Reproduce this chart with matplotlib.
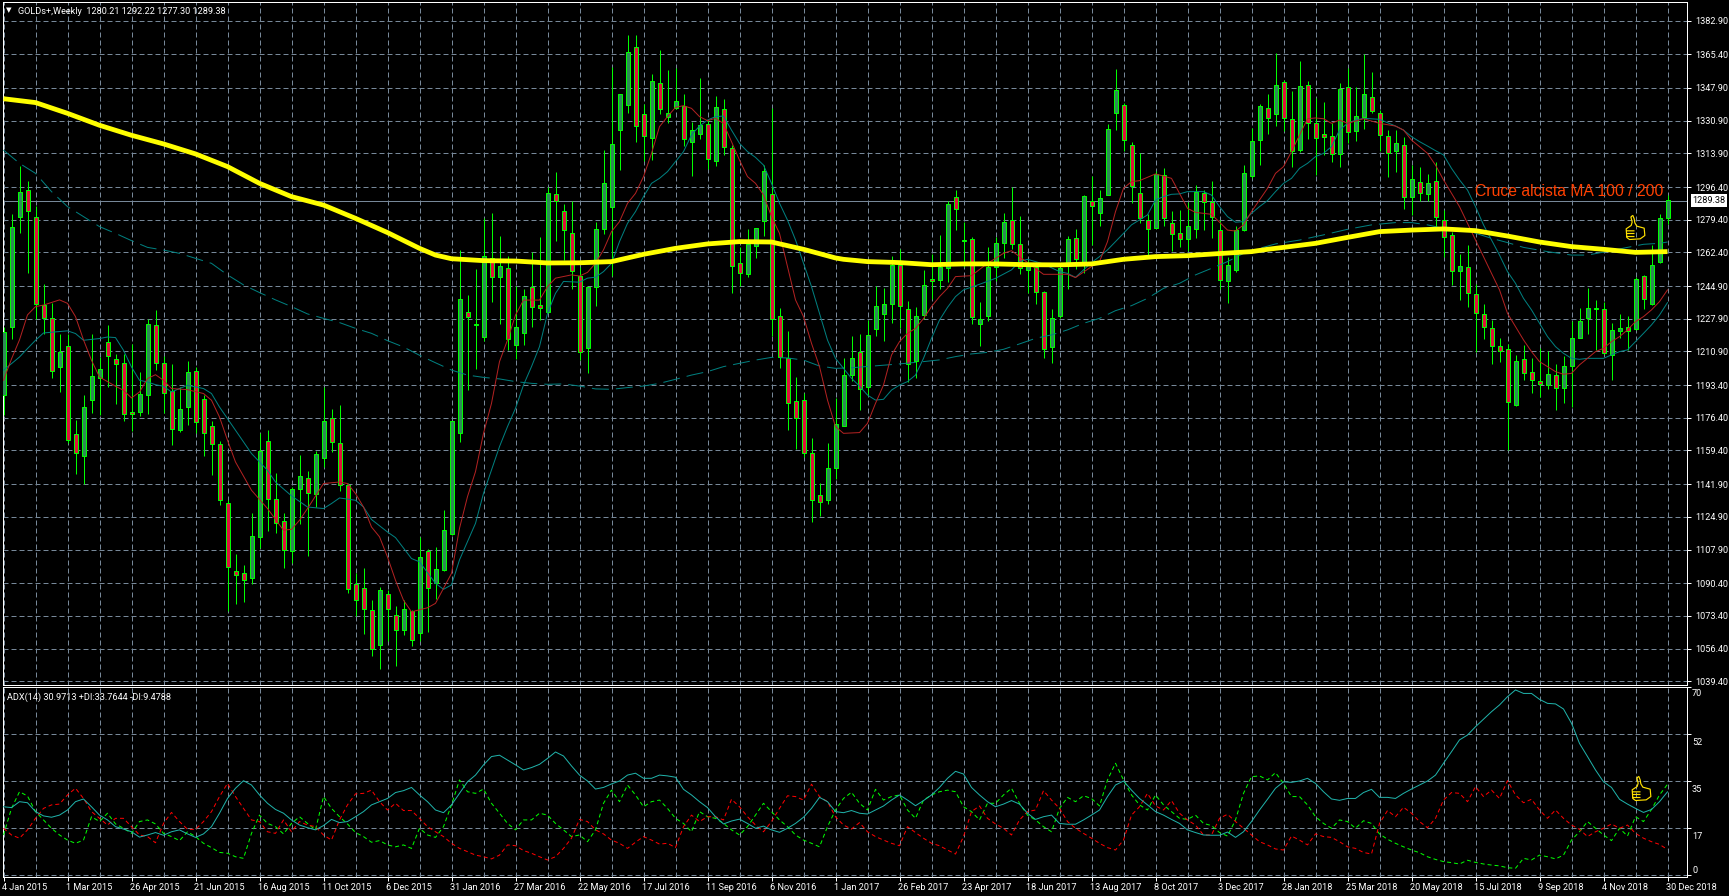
import matplotlib
matplotlib.use("Agg")
import matplotlib.pyplot as plt
from matplotlib.path import Path
from matplotlib.transforms import ScaledTranslation

W, H = 1729, 896

opens = [1188.1,1223.8,1281,1294.7,1280.6,1235,1228.1,1202.8,1213.9,1168.2,
1156.6,1185.9,1197.1,1216,1207.2,1205.1,1179.6,1179.6,1188.5,1224.5,
1205.1,1190.4,1170.3,1182.2,1200.8,1186.4,1172.3,1163,1132.3,1096.9,
1095.9,1093.1,1114.5,1164.5,1133.9,1122.9,1107.3,1139.6,1145.3,1137,
1155.7,1176.5,1163.5,1141.7,1090.2,1088.1,1076.2,1058.5,1085,1073.6,
1066.3,1076,1064.7,1107.3,1090.3,1097.4,1115.8,1168.3,1231.6,1224.5,
1218.6,1259.7,1249.4,1254.1,1214.1,1220.3,1244.6,1234.9,1231.6,1292.6,
1284.1,1272.7,1250.1,1212.9,1244.2,1274.7,1286.2,1326.2,1339.2,1369,
1334.2,1321.7,1350.3,1333,1337.3,1338.7,1320,1324.1,1329,1310.1,
1336.8,1316.9,1257.1,1251.3,1265.9,1278.6,1292.6,1229.1,1207.3,1185.3,
1185.5,1158.3,1136,1133.8,1150.5,1172.3,1198.7,1210.8,1192.6,1222.4,
1230.6,1235.8,1255.8,1233.2,1206.1,1230,1248.4,1248.2,1254.5,1291.4,
1268.4,1269.2,1225,1229.5,1255,1267.5,1279.4,1266.6,1253.4,1255,
1242,1213.4,1229.5,1256.7,1270.1,1256.7,1289,1282.7,1292.4,1335.1,
1338.9,1318.4,1293.1,1279.1,1275.3,1302.8,1277.5,1272.3,1269.2,1274.7,
1293.1,1288.4,1273.9,1247.7,1253.4,1274.2,1302.3,1320.7,1337.3,1334.5,
1350.8,1331.6,1315.5,1349.6,1329.5,1323.8,1322.8,1313.4,1348.2,1325.7,
1332.8,1343,1334.7,1322.7,1315,1318.1,1291.4,1298.8,1293,1299.4,
1279.3,1271.3,1252.9,1255,1240.9,1230.6,1223.3,1213.6,1212.4,1183.2,
1207.2,1200,1195.4,1193.6,1198.5,1191.7,1203.2,1217.7,1228.1,1232.8,
1232.8,1209.1,1221.7,1223.4,1222.4,1250.1,1235.8,1257.2,1280.21]

closes = [1221,1275.8,1293.6,1284.1,1235.4,1228.5,1200.8,1210.8,1165,1158.3,
1182.2,1198.3,1202,1208.7,1204.6,1178.6,1178.6,1188.5,1225,1205.1,
1189.5,1170.8,1181.2,1200.4,1174.4,1168.7,1163,1133.9,1099,1094.9,
1092.3,1115.1,1159.3,1134.4,1121.9,1107.9,1139.6,1146.3,1137.5,1157.8,
1174.9,1164,1141.7,1087.6,1081.9,1077.2,1056.4,1086.6,1077.2,1066.3,
1076.7,1060.6,1104.2,1088.1,1097.6,1117.9,1174.6,1238,1229,1225.2,
1260.7,1249.4,1255.2,1217.2,1223.4,1239.6,1233.8,1233.3,1293.1,1288.9,
1273.9,1252.7,1210.5,1244.2,1274.4,1298.3,1318.6,1344.6,1366.4,1328.3,
1323.1,1351.3,1336.8,1334.7,1340.9,1321.2,1325.9,1328.8,1310.8,1337.8,
1317.4,1255.2,1251.5,1266.8,1275,1304.6,1227.6,1207.8,1183.9,1176.1,
1158.3,1133.5,1132.4,1150.1,1173,1198.5,1207.3,1191.2,1219.3,1234.4,
1235.4,1255.8,1234.4,1204.2,1229.2,1245.3,1247.4,1254.8,1287.6,1284.8,
1268.9,1229,1227.6,1255,1267.1,1278,1267,1254.1,1255.7,1241.6,
1212,1228.1,1254.1,1269.2,1258.8,1291.6,1286.4,1290.9,1326.4,1346.7,
1320.7,1296.9,1280.1,1274.4,1303.3,1280.1,1272.1,1269.5,1276,1293.8,
1288.4,1280.8,1247.9,1255.7,1273.9,1303.5,1320.2,1338.4,1332.1,1349.3,
1332.1,1315,1348.8,1329.5,1321.7,1322.6,1313.4,1347.2,1324.8,1333.2,
1344.6,1335.8,1323.6,1313.9,1319.1,1291.4,1300.4,1293.1,1298.3,1280.6,
1270.2,1252.6,1255.2,1241.5,1230.7,1223.4,1213.6,1211.2,1184.5,1205.8,
1199.5,1196.2,1193.8,1199,1191.7,1203.2,1217.7,1226.6,1233.3,1233.5,
1210.1,1221.9,1222.9,1221.7,1248.4,1238.4,1255.7,1280.1,1289.38]

highs = [1223.8,1282.4,1307.3,1299.5,1286.5,1245.8,1235.9,1219.8,1220,1175.5,
1188.1,1219.8,1208,1224.7,1209.4,1209.4,1215,1200,1227.6,1232.5,
1208.7,1204.2,1192.4,1205.8,1202.8,1188.1,1174.8,1164.2,1133.5,1105.4,
1099.7,1126.8,1168.5,1170.3,1147.9,1126.8,1140.4,1156.9,1148.6,1159.2,
1192.4,1180.8,1182.9,1142.5,1095.9,1098.2,1081.5,1088.5,1086.7,1078.4,
1081.9,1076.7,1114.5,1108.4,1109.4,1128.5,1174.6,1263.7,1240.2,1253.6,
1280.1,1283.1,1270.9,1260.5,1245.1,1243.2,1262.4,1270.2,1296.6,1304,
1287.6,1289.1,1255,1244.6,1278,1315.6,1358.6,1344.8,1375.4,1375.4,
1339.6,1355,1367.6,1357.2,1358.1,1344.8,1330.4,1352.9,1331.2,1343.7,
1342.2,1318.2,1265.4,1274.4,1275,1307.8,1337.3,1233.3,1221.5,1197.4,
1189.5,1165.7,1142.3,1163.1,1186.5,1207.3,1218.9,1220,1227.3,1245,
1243.7,1260.5,1264.4,1237.1,1234.2,1253.3,1261.6,1271.4,1289.1,1294.8,
1278.4,1270.2,1236.5,1265,1270.6,1282.7,1296.4,1281.3,1258.5,1257.6,
1242.5,1232.8,1255,1270.9,1274.4,1292.2,1302.1,1294.8,1329.2,1357.8,
1339.9,1319.6,1314,1282.4,1304.9,1306.1,1283.9,1284.4,1288.8,1297.4,
1294.8,1299.4,1279.3,1260.2,1276.1,1307.7,1326.9,1339.6,1344.6,1365.9,
1352,1346.5,1361.9,1351.5,1342.5,1340.6,1329.5,1350.3,1358.1,1348.2,
1365.4,1356.2,1336.4,1326,1326,1322.2,1307.8,1307,1303.2,1309.2,
1284.4,1273.2,1261.6,1266.3,1245.8,1235.4,1227.3,1217.7,1214.8,1209,
1214.3,1207.3,1212.5,1211.1,1204.4,1208.6,1226.9,1233.3,1243.7,1237.7,
1236.8,1225.5,1230.4,1229.3,1249.8,1250.7,1266.3,1282.4,1292.22]

lows = [1177.7,1217.6,1272.3,1251.9,1228,1220,1197.1,1189.8,1163.3,1147,
1142.2,1178.9,1177.7,1192.4,1183.4,1174.8,1169.6,1177.2,1178.2,1201.1,
1178.9,1162.1,1169,1172.5,1168.5,1156.4,1146.5,1130.9,1076,1079.4,
1080.6,1089.8,1108.9,1117.4,1116.5,1098.2,1101,1121,1104.4,1130,
1150.8,1158.6,1138.2,1085.3,1073.2,1063.8,1052.4,1046,1060.4,1047.4,
1063.3,1057.8,1060.4,1065,1082,1096.9,1115.5,1164,1190.8,1201.6,
1216.5,1236.6,1225.2,1211.7,1206.8,1214.3,1223.8,1227.3,1230.7,1268.5,
1258.5,1243.5,1206.4,1199.9,1234.5,1272,1250.1,1305.2,1334.7,1319.8,
1310.1,1310.4,1334.4,1329.5,1336.8,1317.7,1302.1,1321.4,1305.8,1307.3,
1313,1241.5,1245.1,1249.8,1259.5,1271,1219,1202.5,1170,1160,
1156.2,1122.4,1125.3,1131.6,1144.6,1172,1195.5,1180.4,1187.7,1218.9,
1216.5,1225.9,1223,1194.8,1197.1,1227.6,1238.4,1243.4,1247.2,1274.1,
1255,1225.2,1213.9,1226.9,1247.7,1259.3,1264.2,1251.2,1241.1,1235.6,
1207.3,1204.7,1228.1,1243.6,1254,1251.5,1266.3,1276.3,1292,1326.1,
1315.1,1288.1,1277.9,1260.2,1275,1276.1,1263.1,1265,1263.1,1269.9,
1274.1,1269.9,1243.4,1236.3,1252.4,1273.7,1300.9,1307.9,1324,1328.1,
1325.7,1307,1314.8,1321.2,1302.6,1313,1309.6,1307,1319.5,1320.2,
1326.6,1335,1315.1,1301.8,1304.4,1285,1282,1289.3,1289.3,1275,
1260.2,1245.3,1237.7,1234.2,1210.8,1217.4,1204.4,1205.6,1159.6,1182.7,
1196,1189.5,1187.1,1191.2,1180.5,1184.3,1182.2,1217.7,1220,1211.7,
1209.6,1196.1,1217.7,1211.7,1222,1232.8,1235.2,1256.7,1277.3]

ma_slow_bars = [0,4,8,12,16,20,24,28,32,36,40,44,48,52,54,56,60,64,68,72,76,80,84,88,92,96,100,104,
105,108,112,116,120,124,128,132,136,140,144,148,152,156,158,160,164,168,172,176,180,184,188,192,196,200,204,208]
ma_slow = [1342.3,1340.3,1334.7,1328.5,1323.3,1318.8,1313.6,1307,1298.3,1291.4,1287,1280.1,1272.7,1264.5,1261,1259.1,
1258.1,1257.9,1256.9,1257,1257.6,1261.4,1264.5,1266.8,1268,1267.8,1264,1259.5,
1258.8,1257.6,1257.1,1256,1256.4,1256.4,1256,1255.9,1256.4,1258.8,1260.2,1260.7,1261.8,1262.8,1264,
1265,1267.1,1270.2,1273.2,1274,1274.6,1273.7,1270.9,1267.8,1265.4,1264,1262.4,1262.8]

ma_fast_bars = [0,1,2,3,4,5,7,8,9,10,11,12,14,15,16,17,18,19,20,21,23,25,26,27,28,29,31,33,35,36,37,38,40,42,43,44,45,46,47,48,49,50,51,53,
54,55,56,57,58,59,60,61,62,63,64,65,67,68,69,71,72,73,74,75,76,77,78,79,80,81,82,83,84,85,86,87,88,89,90,91,92,93,94,95,96,97,98,99,
100,101,102,103,104,105,107,108,109,110,111,112,113,114,115,116,117,118,119,121,123,125,126,127,129,130,133,134,136,137,138,139,140,141,142,144,146,147,148,149,151,153,154,155,156,157,158,
159,160,161,162,163,164,165,166,167,168,170,172,174,175,176,177,178,179,180,181,182,183,184,185,186,187,188,189,190,191,192,193,194,195,196,197,198,199,200,201,202,203,204,205,206,207,208]
ma_fast = [1195.9,1207,1216.9,1229.9,1234.2,1235,1237.7,1235.9,1229,1216.9,1206.3,1197.6,1192.8,1190.7,1186.7,1189.8,1196.8,1198.8,1195.9,1191.6,1191,1189,1185.5,1176.8,1164.7,1153.4,1138.7,1129.2,1117.9,1118.4,1123.1,1129.2,1142.2,1143,1142.2,1137,1130,1119.6,1114.5,1104,1091.9,1081.5,1075.5,1077.6,
1079.9,1087.7,1095.5,1118.9,1135.4,1148.4,1168.3,1183.9,1205.6,1216.8,1229.8,1237.6,1237.6,1244.6,1249,1250.7,1250.1,1252,1256.7,1263.7,1273.2,1278.4,1287.9,1293.1,1301.8,1313.9,1327.8,1333,1337.8,1338.7,1337.3,1333,1330.9,1332.1,1329.5,1320,1310.4,1301.8,1298.3,1292.3,1281,1272.3,1255,1237.7,
1229,1215.1,1203,1185.6,1171.8,1168.3,1168.7,1173.5,1183.9,1193.4,1209,1216,1220.3,1222.9,1228,1234.2,1239.4,1243.7,1249.8,1250.3,1256.7,1261.9,1263.3,1260.2,1254.1,1251,1251,1249.3,1255,1257.6,1268,1283.6,1295.7,1299.2,1299.7,1303.2,1300.9,1293.1,1285.3,1283.2,1282.2,1274,1273.5,1276.7,1283.6,1289.7,1295.7,
1303.5,1307,1314.8,1323.4,1331.9,1332.3,1331.9,1329.5,1331.2,1329.5,1331.9,1329.5,1328.1,1326,1320.8,1317.4,1313.9,1307.8,1300.1,1293.1,1286.2,1277.5,1268.8,1260.2,1251.5,1242.9,1230.7,1223.8,1216.9,1210.8,1205.6,1203,1200.4,1199,1199.5,1203.9,1207.3,1210.8,1212.5,1216,1218.6,1222.1,1226.4,1229,1232.5,1236.8,1242.9]

ma_mid_bars = [0,2,3,4,5,8,9,10,12,13,14,15,16,17,18,19,20,21,22,23,25,26,27,28,29,31,33,34,36,38,40,41,42,44,45,46,48,49,51,52,
54,55,56,57,58,59,60,61,62,63,64,65,66,67,68,69,70,72,73,74,75,76,77,78,79,80,81,82,83,84,85,86,87,88,89,90,91,92,93,94,95,96,97,98,99,100,101,102,103,
104,105,106,107,108,109,110,111,112,113,114,115,116,117,118,119,120,122,124,126,127,128,129,130,132,133,134,135,136,137,138,139,140,141,142,143,144,145,146,147,148,150,151,152,153,154,155,156,157,158,
159,160,161,162,163,164,165,166,167,168,169,170,172,174,175,176,177,178,179,180,181,182,183,184,185,186,187,188,189,190,191,192,193,194,195,196,197,198,200,201,202,203,204,205,206,207,208]
ma_mid = [1201.1,1208,1212.4,1216.7,1220.5,1221.6,1220.2,1216.7,1217.6,1218.4,1218.1,1211.5,1202.8,1195.9,1195,1193.6,1192.8,1189.8,1191.6,1193.3,1191.6,1189,1182,1176,1169.9,1157.8,1149.1,1143,1135.8,1130,1129.2,1131.8,1134.7,1133.5,1130,1123.5,1117,1114.1,1103.2,1101.5,
1090.3,1087.2,1089.5,1102.5,1112,1121.5,1137.1,1149.3,1161.4,1171.8,1181.3,1193.4,1203,1213.4,1230.7,1241.1,1247.3,1246.9,1249,1249.5,1252.4,1256.7,1268,1277.5,1283.6,1291.4,1298.3,1300.9,1304.4,1309.6,1314.8,1323.5,1328.1,1331.2,1333,1333.3,1326,1319.1,1314.8,1311.8,1307.8,1298.3,1288,1279.2,1268.9,1256.7,1244.6,1230.7,1216.8,
1207.3,1202.1,1196.9,1192.9,1188.2,1185.6,1186,1190.8,1193.4,1195.2,1198.6,1207.3,1217.7,1227.2,1233.8,1239.4,1242.9,1245.8,1248.9,1253.3,1257.6,1258.8,1257.6,1256.4,1252.4,1251.5,1249.4,1253.3,1257.1,1260.2,1263.7,1268,1272.3,1276.7,1279.3,1281.9,1289.7,1291.4,1292.6,1292.8,1294,1294,1292.2,1286.2,1281,1278.1,1278.4,1282.7,1286.2,1289.3,
1294,1298.3,1300.9,1306.1,1308.7,1312.2,1313.9,1317.4,1326,1329.5,1331.2,1332.1,1331.6,1328.1,1326,1322.6,1320,1317.7,1315.3,1313.1,1306.1,1300.1,1294.8,1286.2,1276.7,1268.8,1261,1252.4,1246.3,1238.5,1232.5,1225.5,1218.6,1213.4,1209.9,1207.3,1206.8,1207.3,1207.3,1209.1,1210.8,1211.7,1216,1220.3,1224.7,1229.8,1236.3]

ma_long_bars = [0,2,4,6,8,10,12,14,16,18,20,22,24,26,28,30,32,34,36,38,40,42,44,46,48,50,52,54,56,58,60,62,64,66,68,70,72,74,76,78,80,82,84,86,88,90,92,94,96,98,100,102,104,106,112,115,117,119,121,123,125,127,129,131,133,135,137,139,141,143,145,147,149,151,153,155,157,159,162,165,168,171,174,176,178,180,183,186,188,190,193,196,198,201,203,205,207,208]
ma_long = [1315.6,1308.7,1303.5,1294,1286.2,1281,1275.8,1272.3,1268.5,1265,1263.6,1261.9,1259.3,1256.7,1250.7,1245.5,1241.5,1237.7,1234.2,1230.4,1228.1,1225.9,1222.9,1220.3,1216.5,1213.2,1208.9,1205,1201.2,1198.6,1197.4,1196.6,1195.2,1194.3,1193.8,1194,1192.9,1191.4,1191.2,1192.1,1192.9,1194.3,1196.4,1198.6,1200.4,1203,1204.7,1206.4,1207.8,1207.5,1206.4,1203.3,1202.1,1202.4,1204.4,1205.6,1206.5,1208.2,1209.6,1210.4,1212,1214.8,1217.7,1219.5,1222.1,1225.5,1228.1,1232.1,1234.7,1238.5,1243.7,1246.3,1250.7,1254.1,1257.6,1261.9,1264.5,1266.8,1268.8,1271.5,1274.4,1276.7,1277.9,1277.9,1276.7,1274.9,1273.7,1269.7,1267.5,1265,1262.8,1261,1261,1263.3,1265,1266.6,1267.1,1267.8]

adx = [25.4,25.1,27.3,26.9,23.6,22,21.5,22.3,24.2,27.3,28.3,25.4,22.3,20.5,18,17.1,16.1,14.1,14.9,15.8,
14.8,16.1,16.8,15.3,14,15.3,18,23,28.5,32.3,35.1,33.5,29.8,26.7,24.4,23,20.5,18.6,17.6,16.8,
18.4,20.7,19.5,19.9,21.7,23.6,26.1,27.3,28.5,30.7,31.4,32.6,29.8,27.3,24.2,23.2,26.1,30.4,34.7,37.2,
41,44.1,44.6,42.8,41,39.1,40,41.2,43.4,45.8,44.3,40.6,37.2,35,32,32.6,33.9,35,37.2,37.9,
36,36,37.2,36.9,36.4,31.9,29.8,27.3,25.1,21.7,19,20.1,20.8,19.2,17.4,18.2,16.8,15.9,17.4,19.2,
21.5,24.8,28.9,27.3,23.6,23.2,24,23,22.7,24.2,25.7,27.9,29.8,27.9,25.8,27.7,29.8,32.6,36,38.6,
37.6,32.6,29.8,27.3,25.4,26.4,27.7,26.4,23,20.7,21.7,22.3,19.2,18.9,18.9,20.5,22.3,24.2,29.2,33.5,
35,31.6,28.5,26.1,23.6,22.3,20.7,19.2,16.8,15.8,14.9,14.8,14.8,16,14,16.1,19.9,24.2,28.2,32.3,
34.7,34.5,35,36,34.1,31,28.3,27.8,28.5,28.5,30.7,31.9,28.9,28.9,28.5,30.4,32,33.5,35,37.2,
41.6,45.9,50.3,52.1,55.2,58,60.8,63.3,66.4,68.9,67.6,67.6,65.4,63.9,63.7,61.8,56.5,49,44.1,39.1,
34.7,32.6,28.2,26.4,24.8,23.3,24.4,27.3,30.97]

plus_di = [14.9,24.8,31,29.4,23.6,20.5,17.4,14.9,13,11.8,13,21.7,19.9,23,19,17.4,15.5,19.9,20.5,19,
15.5,14.3,12.8,16.1,14.3,11.8,10.2,8.4,8.1,6.8,6.2,15.5,22.3,19.2,18,15.3,19.2,21.7,19.2,16.8,
29.2,24.8,21.7,19,15.8,14.3,12.2,12.8,11.2,10.5,11.2,9.9,17.4,14.9,14,18,26.1,35.4,31,30.4,
32,26.7,23,19.2,16.8,20.5,20.5,23,22.3,19.2,16.8,14.3,14.9,12.4,16.8,26.7,31.6,27.3,33.5,29.8,
25.4,27.3,27.9,24.8,21.1,19.2,16.1,23.6,21.7,21.1,19.2,16.8,14.9,18,22.3,26.7,23.6,20.5,18,14.9,
13,11.8,10.5,18,24.2,28.5,30.8,26.7,24.2,31.9,27.9,29.2,29.8,24.2,21.1,27.9,29.8,31,31.6,31,
25.4,23.6,20.5,26.7,26.7,29.8,32.3,26.7,22.3,20.5,18,16.1,24.8,28.9,27.3,29.5,28.5,25.7,35.4,41.6,
35.4,29.8,26.1,24.2,29.8,26.1,23.6,21.1,20.7,22.3,19.2,18.4,15.8,14.5,20.5,30.4,36.6,36.9,35.4,38.1,
34.1,29.2,29.2,26.1,21.7,19.2,17.4,20.5,19.9,17.4,20.2,19.2,15.3,13.3,11.8,10.5,9.3,8.3,6.8,5.8,
5,4.6,4.1,5.5,4.7,4.1,3.7,3.4,2.7,2.5,6.2,5.6,7.4,6.8,6,7.4,13,16.1,19.9,17.4,
14.9,12.8,17.4,14.5,21.7,19.9,24.4,29.8,33.76]

minus_di = [17.4,14.9,13.7,16.8,21.1,24.8,26.1,26.4,29.8,32.3,28.5,23.6,21.1,18.6,21.1,21.1,18,14.9,14.3,12,
19.2,23.3,19.9,17,17,19.9,23.6,29.2,34.1,29.2,24.8,20.5,19.9,16.1,15.5,20.5,16.1,19.9,18.6,18,
14.9,13,20.5,26.1,30.2,30.4,31.6,27.3,24.2,26.7,24,24,21.1,18,16.1,14.3,11.8,9.9,8.7,7.4,
6.8,6,7.4,11.2,10.9,9.1,8.1,6.8,5.6,6.8,9.9,13.7,20.7,19.9,16.8,15.3,13,11.8,9.9,12.2,
14.3,13,11.5,11.8,10.2,18,22.3,19.9,21.7,21.7,20.5,28.2,25.4,21.7,18.6,16.1,19.9,24.8,29.5,29.2,
27.9,33.8,29.2,27.3,21.7,18.6,17.1,19.5,16.1,14.3,13,11.8,10.9,18,15.8,13.7,11.8,10.9,9.3,7.8,
14.3,23.6,25.7,21.1,19,17.4,14.9,20.5,23.6,24.2,31.4,27.9,24.8,19.9,17.4,15.5,13.7,11.8,10.2,9.3,
13,22.3,25.4,30.4,25.7,24.2,27.7,23,20.5,18.6,14.9,14.9,21.1,22.6,19.9,17.4,14.9,12.4,11.2,9.7,
9.3,14.5,13,11.2,15.3,14.3,14,12.4,10.5,9.9,8.4,7.8,19.2,24,21.7,25.2,23,19.9,17.6,21.1,
27.9,30.7,30.4,27.3,32.9,29.2,31.6,28.5,35.1,29.8,26.9,28.2,24.2,21.1,24.2,21.1,18.6,17,14.3,16.1,
17.4,19,17.4,18.6,15.5,13.7,12.4,11.4,9.48]

price_ticks = [1382.9,1365.4,1347.9,1330.9,1313.9,1296.4,1279.4,1262.4,1244.9,1227.9,1210.9,
1193.4,1176.4,1159.4,1141.9,1124.9,1107.9,1090.4,1073.4,1056.4,1039.4]
adx_ticks = [0,17.5,35,52.5,70]
adx_labels = ['0','17','35','52','70']
date_labels = ['4 Jan 2015','1 Mar 2015','26 Apr 2015','21 Jun 2015','16 Aug 2015','11 Oct 2015','6 Dec 2015',
'31 Jan 2016','27 Mar 2016','22 May 2016','17 Jul 2016','11 Sep 2016','6 Nov 2016','1 Jan 2017','26 Feb 2017',
'23 Apr 2017','18 Jun 2017','13 Aug 2017','8 Oct 2017','3 Dec 2017','28 Jan 2018','25 Mar 2018','20 May 2018',
'15 Jul 2018','9 Sep 2018','4 Nov 2018','30 Dec 2018']
last_price = 1289.38
title_main = 'GOLDs+,Weekly  1280.21 1292.22 1277.30 1289.38'
title_adx = 'ADX(14) 30.9713 +DI:33.7644 -DI:9.4788'
note = 'Cruce alcista MA 100 / 200'

BLACK = '#000000'; GRID = '#778899'; LIME = '#00FF00'
BODY_UP = '#2E8B57'; BODY_DN = '#DC143C'
PX = 72 / 100
TXT = 6.6

plt.rcParams['font.family'] = ['Roboto', 'DejaVu Sans']
fig = plt.figure(figsize=(W / 100, H / 100), dpi=100, facecolor=BLACK)

def box(l, t, r, b):
    return [l / W, 1 - b / H, (r - l) / W, (b - t) / H]

ax = fig.add_axes(box(2.5, 2.5, 1686.5, 684.5), facecolor=BLACK)
sub = fig.add_axes(box(2.5, 686.5, 1686.5, 876.5), facecolor=BLACK)

n = len(closes)
bars = list(range(n))
xlim = ((2.5 - 3.5) / 8, (1686.5 - 3.5) / 8)
for a in (ax, sub):
    a.set_xlim(*xlim)
    a.set_axisbelow(True)
    for s in a.spines.values():
        s.set_color('white'); s.set_linewidth(PX)
    a.yaxis.tick_right()
    a.set_xticks(bars[::8])
    a.set_xticks(bars[4::8], minor=True)
    a.grid(True, which='both', color=GRID, lw=PX, linestyle=(0, (5, 3)))
    a.tick_params(which='minor', length=0)

ax.set_ylim(1393.64 - 0.52 * 684.5, 1393.64 - 0.52 * 2.5)
ax.set_yticks(price_ticks)
ax.set_yticklabels([f'{v:.2f}' for v in price_ticks], color='white', fontsize=TXT)
ax.tick_params(axis='y', length=3, width=PX, color='white', pad=3)
ax.tick_params(axis='x', length=0, labelbottom=False)

# current price line
ax.axhline(last_price, color=GRID, lw=PX, zorder=1.5)

# candles
ax.vlines(bars, lows, highs, color=LIME, lw=PX, zorder=2)
tops = [max(o, c) for o, c in zip(opens, closes)]
bots = [min(o, c) for o, c in zip(opens, closes)]
faces = [BODY_UP if c >= o else BODY_DN for o, c in zip(opens, closes)]
body = ax.bar(bars, [t - b for t, b in zip(tops, bots)], bottom=bots, width=0.5, color=faces,
              edgecolor=LIME, linewidth=PX, zorder=3)
for p in body:
    p.set_snap(True)

# moving averages
ax.plot(ma_long_bars, ma_long, color='#008080', lw=PX, linestyle=(0, (17, 7)), zorder=4)
ax.plot(ma_mid_bars, ma_mid, color='#008080', lw=PX, zorder=4)
ax.plot(ma_fast_bars, ma_fast, color='#B22222', lw=PX, zorder=4)
ax.plot(ma_slow_bars, ma_slow, color='#FFFF00', lw=PX * 4.8, zorder=5, solid_capstyle='butt')

ax.text((1475 - 3.5) / 8, 1294.3, note, color='#FF4000', fontsize=11.35,
        family=['Liberation Sans', 'DejaVu Sans'], va='center', ha='left', zorder=6)

# thumbs-up marker
thumb_pts = [(-14, -32), (-8, -36), (-4, -26), (-2, -14), (4, -4), (26, 2), (28, 24), (14, 34),
             (-18, 36), (-26, 30), (-28, 4), (-13, -6), (-10, -16), (-14, -32)]
codes = [Path.MOVETO] + [Path.LINETO] * (len(thumb_pts) - 1)
for y in (10, 18, 27):
    thumb_pts += [(-27, y), (-3, y)]
    codes += [Path.MOVETO, Path.LINETO]
thumb = Path([(px, -py) for px, py in thumb_pts], codes)
thumb_style = dict(marker=thumb, markersize=17.3, markerfacecolor='none',
                   markeredgecolor='#FFE000', markeredgewidth=0.85, linestyle='none', zorder=7)
ax.plot([203.9], [1275.6], **thumb_style)

# last price box
ax.annotate(f'{last_price:.2f}', xy=(1, last_price), xycoords=ax.get_yaxis_transform(),
            xytext=(6 * PX, 0), textcoords='offset points', color='black', fontsize=TXT,
            va='center', ha='left', annotation_clip=False,
            bbox=dict(boxstyle='square,pad=0.2', fc='white', ec='none'), zorder=10)

# ADX pane
sub.set_ylim((875 - 876.5) * 0.3723, (875 - 686.5) * 0.3723)
sub.set_yticks(adx_ticks)
sub.set_yticklabels(adx_labels, color='white', fontsize=TXT)
sub.tick_params(axis='y', length=3, width=PX, color='white', pad=1)
sub.tick_params(axis='x', which='major', length=3, width=PX, color='white', pad=1.5)
shift = {'0': 6, '17': -8, '35': -8, '52': -8, '70': -6}
for lab, key in zip(sub.get_yticklabels(), adx_labels):
    lab.set_transform(lab.get_transform() + ScaledTranslation(0, shift[key] / 100, fig.dpi_scale_trans))
sub.set_xticklabels(date_labels, color='white', fontsize=TXT, ha='left')
for lab in sub.get_xticklabels():
    lab.set_transform(lab.get_transform() + ScaledTranslation(-1.5 / 100, 0, fig.dpi_scale_trans))

sub.plot(bars, plus_di, color=LIME, lw=PX, linestyle=(0, (4, 3)), zorder=3)
sub.plot(bars, minus_di, color='#FF0000', lw=PX, linestyle=(0, (4, 3)), zorder=3)
sub.plot(bars, adx, color='#20B2AA', lw=PX, zorder=4)
sub.plot([204.7], [32.4], **thumb_style)

# headers
fig.text(5.5 / W, 1 - 10.5 / H, '\u25bc', color='white', fontsize=5.2, family='DejaVu Sans', va='center', ha='left')
fig.text(18 / W, 1 - 11 / H, title_main, color='white', fontsize=TXT, va='center', ha='left')
fig.text(7 / W, 1 - 697.5 / H, title_adx, color='white', fontsize=TXT, va='center', ha='left')

fig.savefig('out.png', dpi=100, facecolor=BLACK)
